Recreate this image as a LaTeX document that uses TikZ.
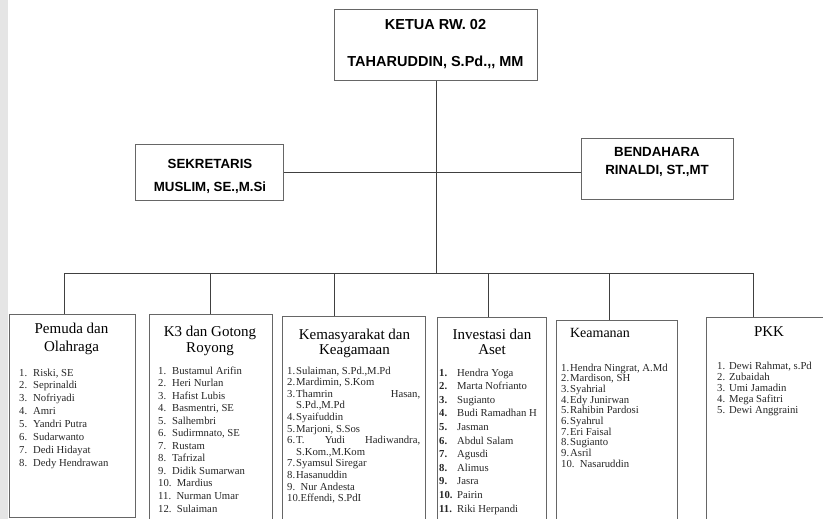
\documentclass[tikz,border=0pt]{standalone}
\usepackage{fontspec}
\setmainfont{Liberation Serif}
\newfontfamily\hdfont{Liberation Sans}
\usetikzlibrary{positioning}
\tikzset{x=1pt,y=-1pt}
\tikzset{box/.style={draw=black!60,line width=0.9pt,anchor=north west,inner sep=0pt}}
\tikzset{line/.style={draw=black!75,line width=0.7pt}}
\tikzset{hdr/.style={anchor=base,inner sep=0pt,font=\hdfont\bfseries}}
\tikzset{ttl/.style={anchor=base,inner sep=0pt}}
\tikzset{lst/.style={anchor=base west,inner sep=0pt,text=black!85}}
\newlength{\numw}
\newcommand{\li}[2]{\makebox[\numw][l]{#1}#2}
\newcommand{\blist}[3]{\setlength{\numw}{#1}\fontsize{10.7}{#2}\selectfont
  \begin{tabular}[t]{@{}l@{}}#3\end{tabular}}
\newcommand{\btitle}[2]{\fontsize{15}{#1}\selectfont
  \begin{tabular}[t]{@{}c@{}}#2\end{tabular}}

\begin{document}
\begin{tikzpicture}
    \useasboundingbox (0,0) rectangle (823,519);
    \clip (0,0) rectangle (823,519);
    \fill[black!10] (0,0) rectangle (8,519);

    % pengurus inti
    \node[box,minimum width=203pt,minimum height=71pt] (ketua) at (334,9) {};
    \node[hdr,font=\hdfont\bfseries\fontsize{14.5}{37}\selectfont] (ketuaT) at (435.5,30)
        {\begin{tabular}[t]{@{}c@{}}KETUA RW. 02\\TAHARUDDIN, S.Pd.,, MM\end{tabular}};
    \node[box,minimum width=148pt,minimum height=56pt] (sek) at (135,144) {};
    \node[hdr,font=\hdfont\bfseries\fontsize{13.3}{23}\selectfont] (sekT) at (210,168)
        {\begin{tabular}[t]{@{}c@{}}SEKRETARIS\\MUSLIM, SE.,M.Si\end{tabular}};
    \node[box,minimum width=152pt,minimum height=61pt] (ben) at (581,138) {};
    \node[hdr,font=\hdfont\bfseries\fontsize{13.3}{18}\selectfont] (benT) at (657,157)
        {\begin{tabular}[t]{@{}c@{}}BENDAHARA\\RINALDI, ST.,MT\end{tabular}};

    % seksi
    \node[box,minimum width=126pt,minimum height=203pt] (b1) at (9,314) {};
    \node[box,minimum width=123pt,minimum height=210pt] (b2) at (149,314) {};
    \node[box,minimum width=143pt,minimum height=210pt] (b3) at (282,316) {};
    \node[box,minimum width=109pt,minimum height=210pt] (b4) at (437,317) {};
    \node[box,minimum width=121pt,minimum height=210pt] (b5) at (556,320) {};
    \node[box,minimum width=130pt,minimum height=210pt] (b6) at (706,317) {};

    \node[ttl] (t1) at (71.5,333) {\btitle{18}{Pemuda dan\\Olahraga}};
    \node[ttl] (t2) at (210,336) {\btitle{16.5}{K3 dan Gotong\\Royong}};
    \node[ttl] (t3) at (354.5,339) {\btitle{15.5}{Kemasyarakat dan\\Keagamaan}};
    \node[ttl] (t4) at (492,339) {\btitle{15.5}{Investasi dan\\Aset}};
    \node[ttl,font=\fontsize{14}{17}\selectfont] (t5) at (600,337) {Keamanan};
    \node[ttl,font=\fontsize{15}{18}\selectfont] (t6) at (769,336) {PKK};

    \node[lst] (l1) at (19,376) {\blist{14pt}{12.9}{%
        \li{1.}{Riski, SE}\\ \li{2.}{Seprinaldi}\\ \li{3.}{Nofriyadi}\\
        \li{4.}{Amri}\\ \li{5.}{Yandri Putra}\\ \li{6.}{Sudarwanto}\\
        \li{7.}{Dedi Hidayat}\\ \li{8.}{Dedy Hendrawan}}};
    \node[lst] (l2) at (158,374) {\blist{14pt}{12.55}{%
        \li{1.}{Bustamul Arifin}\\ \li{2.}{Heri Nurlan}\\ \li{3.}{Hafist Lubis}\\
        \li{4.}{Basmentri, SE}\\ \li{5.}{Salhembri}\\ \li{6.}{Sudirmnato, SE}\\
        \li{7.}{Rustam}\\ \li{8.}{Tafrizal}\\ \li{9.}{Didik Sumarwan}\\
        10.\ \ Mardius\\ 11.\ \ Nurman Umar\\ 12.\ \ Sulaiman}};
    \node[lst] (l3) at (287,374) {\blist{9pt}{11.6}{%
        \li{1.}{Sulaiman, S.Pd.,M.Pd}\\ \li{2.}{Mardimin, S.Kom}\\
        \li{3.}{\hbox to 124pt{Thamrin\hfill Hasan,}}\\ \li{}{S.Pd.,M.Pd}\\
        \li{4.}{Syaifuddin}\\ \li{5.}{Marjoni, S.Sos}\\
        \li{6.}{\hbox to 124pt{T.\hfill Yudi\hfill Hadiwandra,}}\\ \li{}{S.Kom.,M.Kom}\\
        \li{7.}{Syamsul Siregar}\\ \li{8.}{Hasanuddin}\\
        9.\ \ Nur Andesta\\ 10.Effendi, S.PdI}};
    \node[lst] (l4) at (439,376) {\blist{18pt}{13.6}{%
        \li{\textbf{1.}}{Hendra Yoga}\\ \li{\textbf{2.}}{Marta Nofrianto}\\
        \li{\textbf{3.}}{Sugianto}\\ \li{\textbf{4.}}{Budi Ramadhan H}\\
        \li{\textbf{5.}}{Jasman}\\ \li{\textbf{6.}}{Abdul Salam}\\
        \li{\textbf{7.}}{Agusdi}\\ \li{\textbf{8.}}{Alimus}\\
        \li{\textbf{9.}}{Jasra}\\ \li{\textbf{10.}}{Pairin}\\
        \li{\textbf{11.}}{Riki Herpandi}}};
    \node[lst] (l5) at (561,371) {\blist{9pt}{10.7}{%
        \li{1.}{Hendra Ningrat, A.Md}\\ \li{2.}{Mardison, SH}\\ \li{3.}{Syahrial}\\
        \li{4.}{Edy Junirwan}\\ \li{5.}{Rahibin Pardosi}\\ \li{6.}{Syahrul}\\
        \li{7.}{Eri Faisal}\\ \li{8.}{Sugianto}\\ \li{9.}{Asril}\\
        10.\ \ Nasaruddin}};
    \node[lst] (l6) at (717,369) {\blist{12pt}{11}{%
        \li{1.}{Dewi Rahmat, s.Pd}\\ \li{2.}{Zubaidah}\\ \li{3.}{Umi Jamadin}\\
        \li{4.}{Mega Safitri}\\ \li{5.}{Dewi Anggraini}}};

    % garis
    \coordinate (bus) at (436,273);
    \coordinate (j1) at (64,273);
    \coordinate (j2) at (210,273);
    \coordinate (j3) at (334,273);
    \coordinate (j4) at (488,273);
    \coordinate (j5) at (609,273);
    \coordinate (j6) at (753,273);
    \path[line]
        (ketua.south) edge (ketua.south |- bus)
        (sek.east)    edge (sek.east -| ben.west)
        (j1) edge (j6)
        (j1) edge (j1 |- b1.north)
        (j2) edge (j2 |- b2.north)
        (j3) edge (j3 |- b3.north)
        (j4) edge (j4 |- b4.north)
        (j5) edge (j5 |- b5.north)
        (j6) edge (j6 |- b6.north)
    ;
\end{tikzpicture}
\end{document}
